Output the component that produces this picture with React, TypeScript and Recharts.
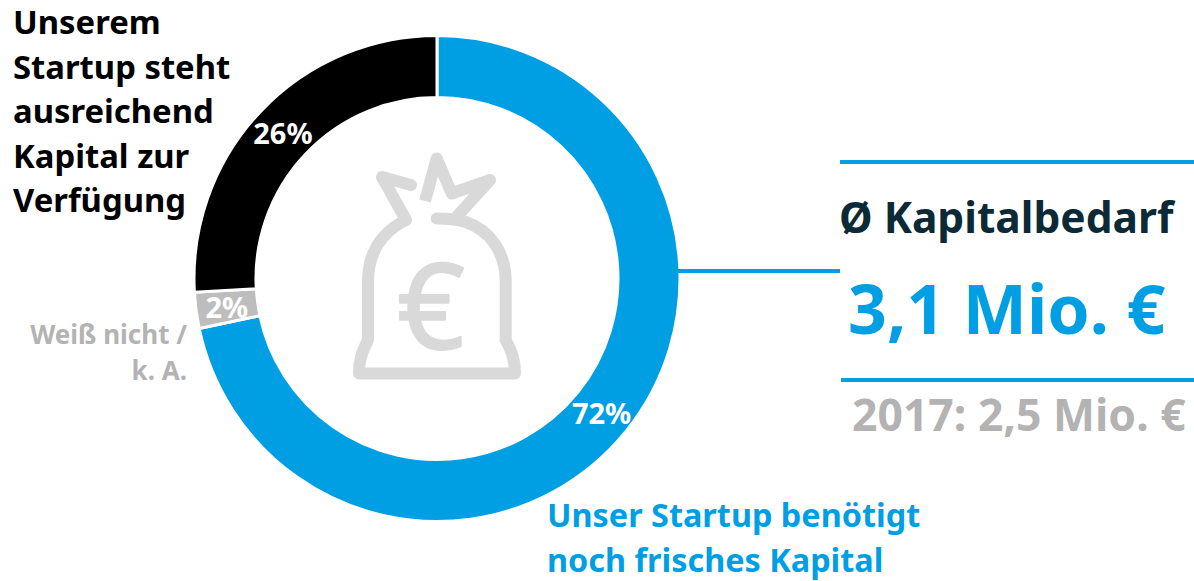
import { PieChart, Pie, Cell } from 'recharts';

const sliceNames = ['Frisches Kapital', 'Weiß nicht / k. A.', 'Ausreichend Kapital'];
const sliceValues = [71.7, 2.4, 25.9];
const sliceColors = ['#009FE3', '#BDBDBD', '#000000'];

const blackLabel = ['Unserem', 'Startup steht', 'ausreichend', 'Kapital zur', 'Verfügung'];
const greyLabel = ['Weiß nicht /', 'k. A.'];
const blueLabel = ['Unser Startup benötigt', 'noch frisches Kapital'];

const chartData = sliceNames.map((name, i) => ({ name, value: sliceValues[i] }));

const FONT = '"Noto Sans", sans-serif';
const RAD = Math.PI / 180;

function renderSliceLabel({ cx, cy, midAngle, innerRadius, outerRadius, value }: any) {
  const r = (innerRadius + outerRadius) / 2;
  const x = cx + r * Math.cos(-midAngle * RAD);
  const y = cy + r * Math.sin(-midAngle * RAD);
  return (
    <text x={x} y={y} fill="#fff" fontSize={29} fontWeight={700} fontFamily={FONT} textAnchor="middle" dominantBaseline="central">
      {Math.round(value)}%
    </text>
  );
}

function MoneyBag() {
  return (
    <g fill="none" stroke="#D9D9D9" strokeWidth={12} strokeLinejoin="round">
      <path d="M411 185 L382 177 L406 220 C382 232 368 252 368 282 L368 340 C362 352 359 360 359 373.5 L515 373.5 C515 360 512 352 505.7 340 L505.7 282 C505.7 252 490 230 465 221.7 C455 219 447 218.5 436.7 218.5" strokeLinecap="round" />
      <path d="M425 201 L436.7 158.5 L451.7 193.5 L490 180 L456.7 216.7" strokeLinecap="butt" />
      <text x={431} y={349} fill="#D9D9D9" stroke="#D9D9D9" strokeWidth={2} fontSize={118} fontWeight={400} fontFamily={FONT} textAnchor="middle">€</text>
    </g>
  );
}

export default function App() {
  return (
    <div style={{ position: 'absolute', left: 0, top: 0, width: 1194, height: 581, background: '#fff' }}>
      <div style={{ position: 'absolute', left: 0, top: 0 }}>
        <PieChart width={1194} height={581} margin={{ top: 0, right: 0, bottom: 0, left: 0 }}>
          <Pie
            data={chartData}
            dataKey="value"
            cx={437}
            cy={278.5}
            innerRadius={181}
            outerRadius={243}
            startAngle={90}
            endAngle={-270}
            stroke="#fff"
            strokeWidth={3}
            label={renderSliceLabel}
            labelLine={false}
            isAnimationActive={false}
          >
            {chartData.map((d, i) => (
              <Cell key={d.name} fill={sliceColors[i]} />
            ))}
          </Pie>
        </PieChart>
      </div>
      <svg width={1194} height={581} style={{ position: 'absolute', left: 0, top: 0 }} fontFamily={FONT} fontWeight={700}>
        <MoneyBag />
        <line x1={840} x2={1194} y1={162} y2={162} stroke="#009FE3" strokeWidth={4} />
        <line x1={678} x2={840} y1={271} y2={271} stroke="#009FE3" strokeWidth={4} />
        <line x1={841} x2={1194} y1={380} y2={380} stroke="#009FE3" strokeWidth={4} />
        {blackLabel.map((t, i) => (
          <text key={t} x={13} y={34 + i * 44.6} fontSize={32.8} fill="#000">{t}</text>
        ))}
        {greyLabel.map((t, i) => (
          <text key={t} x={187} y={344 + i * 36} fontSize={26} fill="#B3B3B3" textAnchor="end">{t}</text>
        ))}
        {blueLabel.map((t, i) => (
          <text key={t} x={547} y={527 + i * 45} fontSize={32.4} fill="#009FE3">{t}</text>
        ))}
        <text x={839} y={233} fontSize={42.5} fill="#0B2A35">Ø Kapitalbedarf</text>
        <text x={848} y={334} fontSize={68} fill="#009FE3">3,1 Mio. €</text>
        <text x={852} y={431} fontSize={44.5} fill="#B3B3B3">2017: 2,5 Mio. €</text>
      </svg>
    </div>
  );
}
